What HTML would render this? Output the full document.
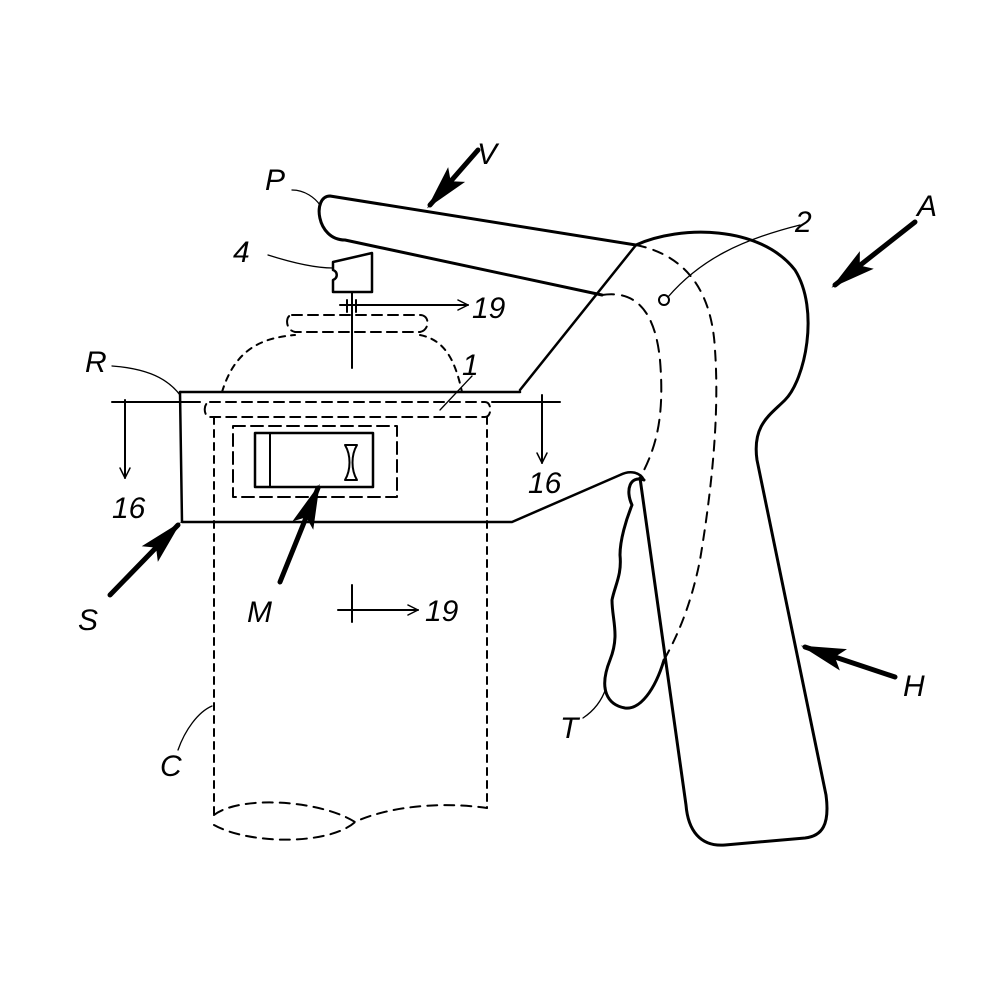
<!DOCTYPE html>
<html><head><style>html,body{margin:0;padding:0;background:#fff}svg{display:block}
text{font-family:"Liberation Sans",sans-serif;font-style:italic;font-size:30px;fill:#000}</style></head>
<body>
<svg width="1000" height="1000" viewBox="0 0 1000 1000" xmlns="http://www.w3.org/2000/svg" fill="none" stroke="#000" stroke-linecap="round" stroke-linejoin="round">
<defs>
<marker id="oa" viewBox="0 0 12 12" refX="11" refY="6" markerWidth="12" markerHeight="12" markerUnits="userSpaceOnUse" orient="auto"><path d="M1,1 L11,6 L1,11" stroke="#000" stroke-width="1.5" fill="none"/></marker>
<marker id="ba" viewBox="0 0 10 10" refX="9" refY="5" markerWidth="9" markerHeight="9" orient="auto"><path d="M0,2.5 L10,5 L0,7.5 L2,5Z" fill="#000" stroke="none"/></marker>
</defs>
<path d="M636,245 L330,196 C312,196 316,240 345,240 L602,295" stroke-width="3"/>
<path d="M636,245 C680,225 760,225 795,270 C820,310 805,380 785,400 C770,415 752,425 757,460 L826,795 C830,825 822,836 805,838 L725,845 C700,847 688,830 686,805 L640,478" stroke-width="3"/>
<path d="M520,390 L636,245" stroke-width="2.5"/>
<path d="M180,392 L520,392" stroke-width="2.5"/>
<path d="M180,392 L182,522 L512,522 L620,475 C630,470 640,472 644,480" stroke-width="2.5"/>
<path d="M644,480 C630,475 625,490 632,505 C626,520 620,540 620,555 C622,575 615,585 612,600 C612,620 620,635 610,660 C598,690 608,705 625,708 C640,710 655,690 664,660" stroke-width="3"/>
<path d="M602,295 C635,290 655,310 660,360 C665,420 655,450 640,478" stroke-width="2" stroke-dasharray="12,8"/>
<path d="M636,245 C685,255 712,290 715,350 C720,420 710,500 700,560 C690,610 675,640 664,660" stroke-width="2" stroke-dasharray="10,8"/>
<circle cx="664" cy="300" r="5" stroke-width="2"/>
<path d="M333,262 L372,253 L372,292 L333,292 L333,280 C338,278 338,272 333,270Z" stroke-width="2.5"/>
<path d="M352,292 L352,368" stroke-width="2"/>
<path d="M347,300 L347,312 M356,300 L356,312" stroke-width="2"/>
<path d="M340,305 L468,305" stroke-width="2" marker-end="url(#oa)"/>
<path d="M292,315 L420,315 C430,315 430,330 420,332 L295,332 C285,330 285,315 292,315Z" stroke-width="2" stroke-dasharray="10,6"/>
<path d="M222,392 C235,350 260,338 295,335 M420,335 C445,340 455,360 462,392" stroke-width="2" stroke-dasharray="6,6"/>
<path d="M112,402 L200,402 M492,402 L560,402" stroke-width="2"/>
<path d="M125,400 L125,478" stroke-width="2" marker-end="url(#oa)"/>
<path d="M542,395 L542,463" stroke-width="2" marker-end="url(#oa)"/>
<path d="M210,402 L485,402 C492,402 492,417 485,417 L210,417 C203,417 203,402 210,402Z" stroke-width="2" stroke-dasharray="10,6"/>
<path d="M214,417 L214,815 M487,417 L487,808" stroke-width="2" stroke-dasharray="7,6"/>
<path d="M214,815 C240,795 320,800 355,822 C380,810 430,800 487,808" stroke-width="2" stroke-dasharray="10,7"/>
<path d="M214,825 C250,845 330,845 355,822" stroke-width="2" stroke-dasharray="10,7"/>
<rect x="233" y="426" width="164" height="71" stroke-width="2" stroke-dasharray="12,6"/>
<rect x="255" y="433" width="118" height="54" stroke-width="2.5"/>
<path d="M270,433 L270,487" stroke-width="2"/>
<path d="M345,445 L357,445 C351,455 351,470 357,480 L345,480 C351,470 351,455 345,445Z" stroke-width="2"/>
<path d="M280,582 L318,488" stroke-width="5" marker-end="url(#ba)"/>
<path d="M110,595 L178,525" stroke-width="5" marker-end="url(#ba)"/>
<path d="M478,150 L430,205" stroke-width="5" marker-end="url(#ba)"/>
<path d="M915,222 L835,285" stroke-width="5" marker-end="url(#ba)"/>
<path d="M895,677 L805,647" stroke-width="5" marker-end="url(#ba)"/>
<path d="M352,585 L352,622" stroke-width="2"/>
<path d="M338,610 L418,610" stroke-width="2" marker-end="url(#oa)"/>
<g stroke-width="1.3">
<path d="M292,190 C305,190 315,198 320,205"/>
<path d="M268,255 C290,262 315,268 333,268"/>
<path d="M112,366 C140,368 165,375 180,395"/>
<path d="M472,376 L440,410"/>
<path d="M583,718 C595,710 602,700 606,688"/>
<path d="M178,750 C185,730 198,712 212,706"/>
<path d="M800,225 C740,240 700,260 668,297"/>
</g>
<g stroke="none">
<text x="265" y="190">P</text>
<text x="233" y="262">4</text>
<text x="85" y="372">R</text>
<text x="795" y="232">2</text>
<text x="462" y="375">1</text>
<text x="472" y="318">19</text>
<text x="112" y="518">16</text>
<text x="528" y="493">16</text>
<text x="78" y="630">S</text>
<text x="247" y="622">M</text>
<text x="425" y="621">19</text>
<text x="477" y="164">V</text>
<text x="917" y="216">A</text>
<text x="903" y="696">H</text>
<text x="560" y="738">T</text>
<text x="160" y="776">C</text>
</g>
</svg>
</body></html>
